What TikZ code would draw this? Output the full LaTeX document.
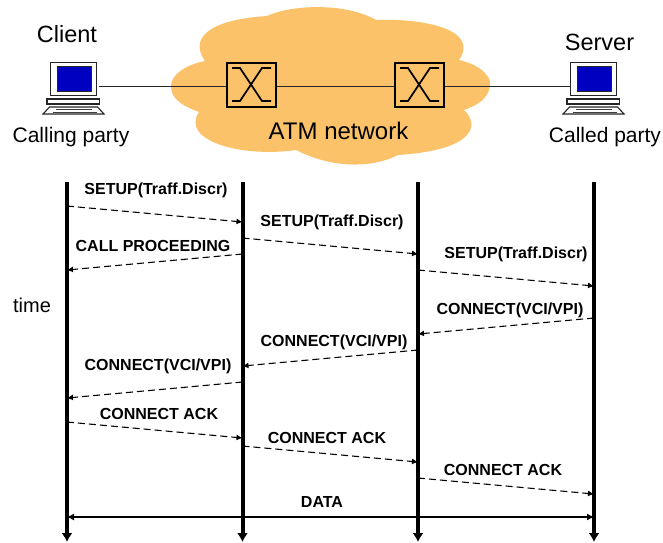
\documentclass[tikz,border=0pt]{standalone}
\usepackage{fontspec}
\setmainfont{Liberation Sans}
\usetikzlibrary{arrows.meta}
\definecolor{cloudc}{RGB}{251,194,105}
\definecolor{screenc}{RGB}{0,0,192}
\tikzset{
  x=1pt,y=-1pt,
  biglabel/.style={inner sep=0pt,font=\fontsize{23.5}{26}\selectfont},
  midlabel/.style={inner sep=0pt,font=\fontsize{21}{24}\selectfont},
  msglabel/.style={inner sep=0pt,font=\fontsize{16}{18}\selectfont\bfseries},
  lifeline/.style={line width=4pt,-{Latex[length=9pt,width=11pt]}},
  msg/.style={line width=1.1pt,dash pattern=on 7pt off 4pt,-{Latex[length=6pt,width=6pt]}},
  wire/.style={line width=1pt,draw=black!85},
  switchbox/.style={draw,line width=2.3pt,fill=none,minimum width=49pt,minimum height=44pt,inner sep=0pt},
  xline/.style={line width=1.7pt},
  monitor/.style={draw=black!85,fill=white,line width=1.2pt,minimum width=46pt,minimum height=33pt,inner sep=0pt},
  pcpart/.style={draw=black!85,fill=white,line width=1.1pt},
  pcline/.style={draw=black!75,line width=1.1pt},
}
\newcommand{\pcdraw}[1]{%
  \begin{scope}[shift={(#1,0)}]
    \fill[screenc,draw=black!85,line width=1pt] (57,66) rectangle (91,91);
    \path[pcpart] (47,99) rectangle (99.5,104);
    \path[pcpart] (43,114) -- (49.5,107) -- (97.5,107) -- (104,114) -- cycle;
    \path[pcline] (56,109.5) -- (92,109.5);
    \path[pcline] (53,112.3) -- (97,112.3);
  \end{scope}}
\newcommand{\xdraw}[1]{%
  \begin{scope}[shift={(#1,0)}]
    \draw[xline] (232,68) -- (240,68) -- (262,101) -- (271,101);
    \draw[xline] (232,101) -- (240,101) -- (262,68) -- (271,68);
  \end{scope}}
\begin{document}
\begin{tikzpicture}
\useasboundingbox (0,0) rectangle (663,542);
% cloud
\fill[cloudc] (205,61)
  .. controls (190,40) and (205,20) .. (267,16)
  .. controls (290,5) and (345,2) .. (376,20)
  .. controls (425,18) and (480,30) .. (459,60)
  .. controls (482,65) and (492,78) .. (490,86)
  .. controls (488,98) and (480,104) .. (464,110)
  .. controls (480,125) and (475,150) .. (398,155)
  .. controls (375,167) and (335,170) .. (296,150)
  .. controls (240,158) and (180,140) .. (199,112)
  .. controls (180,105) and (171,98) .. (171,86)
  .. controls (171,75) and (185,65) .. (205,61) -- cycle;
% computers
\node[monitor] (pcA) at (73.5,79) {};
\node[monitor] (pcB) at (593.5,79) {};
\pcdraw{0}\pcdraw{520}
% switches
\node[switchbox] (swA) at (251.5,85) {};
\node[switchbox] (swB) at (419.5,85) {};
\xdraw{0}\xdraw{168}
\coordinate (pcAout) at (99,86);
\coordinate (swAl) at (swA.west|-pcAout);
\coordinate (swAr) at (swA.east|-pcAout);
\coordinate (swBl) at (swB.west|-pcAout);
\coordinate (swBr) at (swB.east|-pcAout);
\coordinate (pcBin) at (pcB.west|-pcAout);
\draw[wire] (pcAout) -- (swAl);
\draw[wire] (swAr) -- (swBl);
\draw[wire] (swBr) -- (pcBin);
% header labels
\node[biglabel] (client) at (67,34) {Client};
\node[biglabel] (server) at (599.5,42) {Server};
\node[midlabel] (calling) at (71,137.5) {Calling party};
\node[midlabel] (called) at (605,137.5) {Called party};
\node[biglabel,font=\fontsize{24}{26}\selectfont] (atm) at (338.5,130.5) {ATM network};
\node[inner sep=0pt,font=\fontsize{20}{24}\selectfont] (time) at (32,305) {time};
% lifelines
\foreach \n/\x in {a/67,b/242.5,c/418,d/594}{
  \coordinate (\n top) at (\x,182);
  \coordinate (\n bot) at (\x,542);
  \draw[lifeline] (\n top) -- (\n bot);
  \foreach \y in {206,222,238,254,270,286,318,334,350,366,382,398,422,438,446,462,478,494,517}
    \coordinate (\n\y) at (\x,\y);
}
% messages
\draw[msg] (a206) -- (b222);
\draw[msg] (b238) -- (c254);
\draw[msg] (b254) -- (a270);
\draw[msg] (c270) -- (d286);
\draw[msg] (d318) -- (c334);
\draw[msg] (c350) -- (b366);
\draw[msg] (b382) -- (a398);
\draw[msg] (a422) -- (b438);
\draw[msg] (b446) -- (c462);
\draw[msg] (c478) -- (d494);
\draw[line width=1.1pt,{Latex[length=7pt,width=7pt]}-{Latex[length=7pt,width=7pt]}] (a517) -- (d517);
% message labels
\node[msglabel] (m1) at (156,190) {SETUP(Traff.Discr)};
\node[msglabel] (m2) at (332,222) {SETUP(Traff.Discr)};
\node[msglabel] (m3) at (153,246) {CALL PROCEEDING};
\node[msglabel] (m4) at (516,254) {SETUP(Traff.Discr)};
\node[msglabel] (m5) at (510,310) {CONNECT(VCI/VPI)};
\node[msglabel] (m6) at (334,342) {CONNECT(VCI/VPI)};
\node[msglabel] (m7) at (158,366) {CONNECT(VCI/VPI)};
\node[msglabel] (m8) at (159,414) {CONNECT ACK};
\node[msglabel] (m9) at (327,438) {CONNECT ACK};
\node[msglabel] (m10) at (503,470) {CONNECT ACK};
\node[msglabel] (m11) at (322,502) {DATA};
\end{tikzpicture}
\end{document}
